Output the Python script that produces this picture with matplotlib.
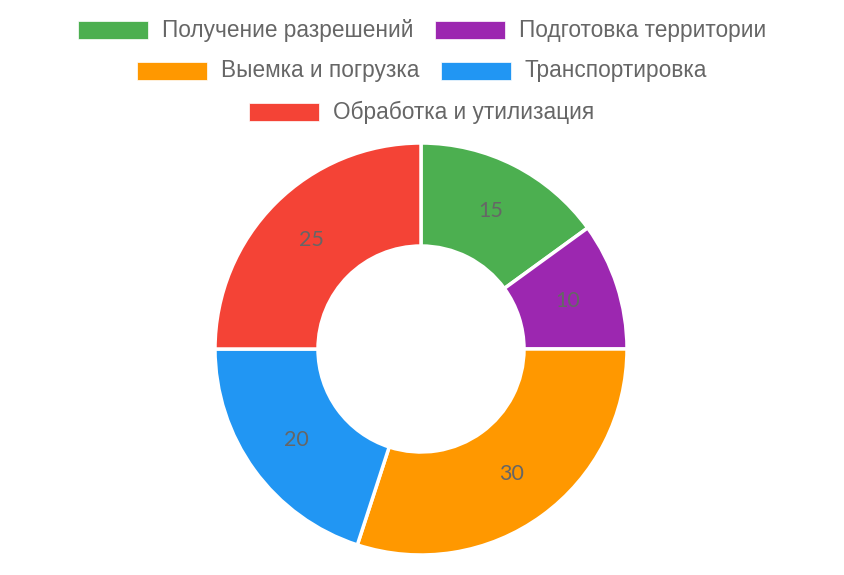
import matplotlib
matplotlib.use("Agg")
import matplotlib.pyplot as plt
from matplotlib.patches import Rectangle

labels = ["Получение разрешений", "Подготовка территории", "Выемка и погрузка",
          "Транспортировка", "Обработка и утилизация"]
values = [15, 10, 30, 20, 25]
colors = ["#4CAF50", "#9C27B0", "#FF9800", "#2196F3", "#F44336"]
legend_rows = [[0, 1], [2, 3], [4]]

W, H = 845, 575
TXT_C = "#666666"

fig = plt.figure(figsize=(W / 100, H / 100), dpi=100)
ax = fig.add_axes([0, 0, 1, 1])

# doughnut, start at top, clockwise, 50% cutout
total = sum(values)
wedges, _, autotexts = ax.pie(
    values, colors=colors, startangle=90, counterclock=False,
    center=(421, H - 349), radius=206, frame=True,
    wedgeprops=dict(width=103, edgecolor="white", linewidth=2.5),
    autopct=lambda p: f"{round(p * total / 100):d}", pctdistance=0.75,
    textprops=dict(color=TXT_C, fontsize=15.5, family=["Lato", "DejaVu Sans"]))
ax.set_xlim(0, W); ax.set_ylim(0, H); ax.set_aspect("equal"); ax.axis("off")

# legend: rows centred individually like chart.js
renderer = fig.canvas.get_renderer()
BOX_W, BOX_H, PAD, GAP = 70, 18, 14, 22
row_y = [30, 71, 112]
for r, idx in enumerate(legend_rows):
    y = H - row_y[r]
    texts = []
    for i in idx:
        t = ax.text(0, y, labels[i], fontsize=16.3, color=TXT_C, va="center", ha="left",
                    family=["Liberation Sans", "DejaVu Sans"])
        texts.append(t)
    widths = [t.get_window_extent(renderer).width for t in texts]
    row_w = sum(BOX_W + PAD + w for w in widths) + GAP * (len(idx) - 1)
    x = 422 - row_w / 2
    for i, t, w in zip(idx, texts, widths):
        ax.add_patch(Rectangle((x, y - BOX_H / 2), BOX_W, BOX_H, facecolor=colors[i],
                               edgecolor="white", lw=0.5))
        t.set_x(x + BOX_W + PAD)
        x += BOX_W + PAD + w + GAP

fig.savefig("out.png", dpi=100)
